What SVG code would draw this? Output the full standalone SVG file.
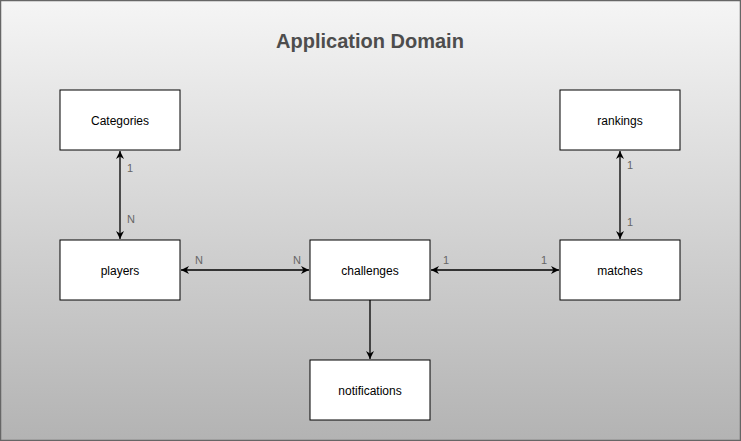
<svg xmlns="http://www.w3.org/2000/svg" width="741" height="441" viewBox="0 0 741 441">
<style>
.node rect{fill:#fff;stroke:#000;stroke-width:1}
.node text{font-family:"Liberation Sans",Arial,sans-serif;font-size:12px;fill:#000;text-anchor:middle}
.conn line{stroke:#000;stroke-width:1.3}
.lbl{font-family:"Liberation Sans",Arial,sans-serif;font-size:11px;fill:#666;text-anchor:middle}
.title{font-family:"Liberation Sans",Arial,sans-serif;font-size:20px;font-weight:bold;fill:#4d4d4d;text-anchor:middle}
</style>
<defs>
<linearGradient id="bg" x1="0" y1="0" x2="0" y2="1">
<stop offset="0" stop-color="#f5f5f5"/>
<stop offset="1" stop-color="#b3b3b3"/>
</linearGradient>
<marker id="arr" viewBox="0 0 10 10" refX="10" refY="5" markerWidth="8" markerHeight="8" markerUnits="userSpaceOnUse" orient="auto-start-reverse">
<path d="M0,0 L10,5 L0,10 L3,5 Z" fill="#000"/>
</marker>
</defs>
<rect x="0.5" y="0.5" width="740" height="440" fill="url(#bg)" stroke="#666" stroke-width="1.5"/>
<text class="title" x="370" y="48">Application Domain</text>
<g id="connectors" class="conn">
<line x1="120" y1="151" x2="120" y2="239" marker-start="url(#arr)" marker-end="url(#arr)"/>
<line x1="181" y1="270" x2="309" y2="270" marker-start="url(#arr)" marker-end="url(#arr)"/>
<line x1="431" y1="270" x2="559" y2="270" marker-start="url(#arr)" marker-end="url(#arr)"/>
<line x1="620" y1="151" x2="620" y2="239" marker-start="url(#arr)" marker-end="url(#arr)"/>
<line x1="370" y1="300" x2="370" y2="359" marker-end="url(#arr)"/>
<text class="lbl" x="130" y="172">1</text>
<text class="lbl" x="131" y="223">N</text>
<text class="lbl" x="199" y="264">N</text>
<text class="lbl" x="297" y="264">N</text>
<text class="lbl" x="446" y="264">1</text>
<text class="lbl" x="544" y="264">1</text>
<text class="lbl" x="630" y="169">1</text>
<text class="lbl" x="630" y="226">1</text>
</g>
<g id="categories" class="node"><rect x="60" y="90" width="120" height="60"/><text x="120" y="125">Categories</text></g>
<g id="rankings" class="node"><rect x="560" y="90" width="120" height="60"/><text x="620" y="125">rankings</text></g>
<g id="players" class="node"><rect x="60" y="240" width="120" height="60"/><text x="120" y="275">players</text></g>
<g id="challenges" class="node"><rect x="310" y="240" width="120" height="60"/><text x="370" y="275">challenges</text></g>
<g id="matches" class="node"><rect x="560" y="240" width="120" height="60"/><text x="620" y="275">matches</text></g>
<g id="notifications" class="node"><rect x="310" y="360" width="120" height="60"/><text x="370" y="395">notifications</text></g>
</svg>
